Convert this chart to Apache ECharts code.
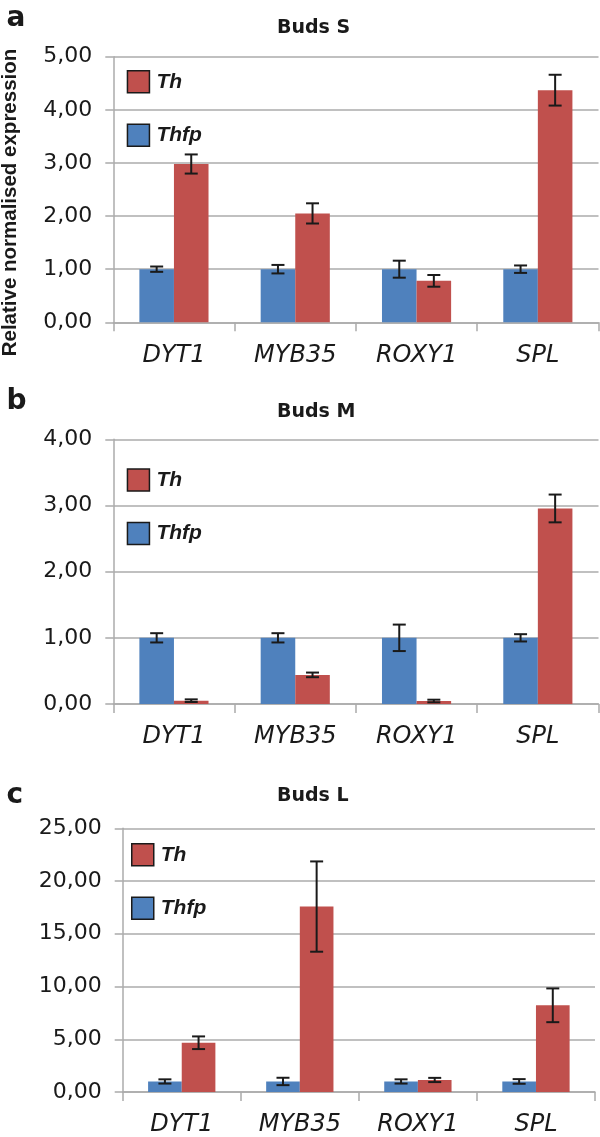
<!DOCTYPE html>
<html>
<head>
<meta charset="utf-8">
<script src="https://cdn.jsdelivr.net/npm/echarts@6/dist/echarts.min.js"></script>
<style>
html,body{margin:0;padding:0;background:#fff;}
#chart{width:600px;height:1137px;}
</style>
</head>
<body>
<div id="chart"></div>
<script>
// ---- data ----
const categories = ['DYT1', 'MYB35', 'ROXY1', 'SPL'];
const seriesNames = ['Thfp', 'Th'];
const panelTitles = ['Buds S', 'Buds M', 'Buds L'];
const panelLetters = ['a', 'b', 'c'];
const yAxisTitle = 'Relative normalised expression';

// Buds S
const thfpS = [1.00, 1.00, 1.00, 1.00];
const thfpSErr = [0.05, 0.08, 0.16, 0.07];
const thS = [2.98, 2.05, 0.78, 4.37];
const thSErr = [0.18, 0.19, 0.11, 0.29];
// Buds M
const thfpM = [1.00, 1.00, 1.00, 1.00];
const thfpMErr = [0.07, 0.07, 0.20, 0.055];
const thM = [0.05, 0.44, 0.045, 2.955];
const thMErr = [0.02, 0.035, 0.02, 0.21];
// Buds L
const thfpL = [1.00, 1.00, 1.00, 1.00];
const thfpLErr = [0.20, 0.35, 0.20, 0.22];
const thL = [4.67, 17.58, 1.14, 8.22];
const thLErr = [0.60, 4.28, 0.20, 1.60];

// y axis ranges
const yMax = [5, 4, 25];
const yStep = [1, 1, 5];

// ---- styling / layout ----
const BLUE = '#4F81BD', RED = '#C0504D';
const GRID_COLOR = '#ababab';
const TEXT = '#1a1a1a';
const grids = [
  {left: 113.3, top: 56.7, width: 485.2, height: 265.6},
  {left: 113.3, top: 439.3, width: 485.2, height: 264.7},
  {left: 122.7, top: 828.3, width: 472.3, height: 265.0}
];
const legendPos = [
  {left: 126.7, top: 70},
  {left: 126.7, top: 468.3},
  {left: 131, top: 843}
];
const titleY = [28.3, 412, 796];
const letterY = [18.6, 402, 795.3];

const panels = [
  {blue: thfpS, blueErr: thfpSErr, red: thS, redErr: thSErr},
  {blue: thfpM, blueErr: thfpMErr, red: thM, redErr: thMErr},
  {blue: thfpL, blueErr: thfpLErr, red: thL, redErr: thLErr}
];

const GAP = 0.43;
function errRender(sign) {
  return function (params, api) {
    const xi = api.value(0);
    const lo = api.coord([xi, api.value(1)]);
    const hi = api.coord([xi, api.value(2)]);
    const bw = api.size([1, 0])[0];
    const barW = bw * (1 - GAP) / 2;
    const cx = lo[0] + sign * barW / 2;
    const hw = 6.5;
    const st = {stroke: '#1a1a1a', lineWidth: 2};
    return {
      type: 'group',
      children: [
        {type: 'line', shape: {x1: cx, y1: hi[1], x2: cx, y2: lo[1]}, style: st},
        {type: 'line', shape: {x1: cx - hw, y1: hi[1], x2: cx + hw, y2: hi[1]}, style: st},
        {type: 'line', shape: {x1: cx - hw, y1: lo[1], x2: cx + hw, y2: lo[1]}, style: st}
      ]
    };
  };
}
function errData(vals, errs) {
  return vals.map((v, i) => [i, v - errs[i], v + errs[i]]);
}

const option = {
  animation: false,
  backgroundColor: '#fff',
  grid: grids,
  legend: [],
  xAxis: [],
  yAxis: [],
  series: [],
  graphic: []
};

panels.forEach((p, k) => {
  option.xAxis.push({
    type: 'category', gridIndex: k, data: categories, boundaryGap: true,
    axisLine: {show: true, lineStyle: {color: GRID_COLOR, width: 1.5}},
    axisTick: {show: true, length: 9, alignWithLabel: false, lineStyle: {color: GRID_COLOR, width: 1.5}},
    axisLabel: {margin: 21, color: TEXT, fontFamily: 'DejaVu Sans', fontSize: 24, fontStyle: 'italic'}
  });
  option.yAxis.push({
    type: 'value', gridIndex: k, min: 0, max: yMax[k], interval: yStep[k],
    axisLine: {show: true, lineStyle: {color: GRID_COLOR, width: 1.5}},
    axisTick: {show: true, length: 8, lineStyle: {color: GRID_COLOR, width: 1.5}},
    splitLine: {show: true, lineStyle: {color: GRID_COLOR, width: 1.5}},
    axisLabel: {margin: 21, color: TEXT, fontFamily: 'DejaVu Sans', fontSize: 22,
      formatter: v => v.toFixed(2).replace('.', ',')}
  });
  option.legend.push({
    orient: 'vertical', left: legendPos[k].left, top: legendPos[k].top, padding: 0,
    itemWidth: 22, itemHeight: 22, itemGap: 30, icon: 'rect',
    data: ['Th', 'Thfp'],
    itemStyle: {borderColor: '#1a1a1a', borderWidth: 1.5},
    textStyle: {color: TEXT, fontFamily: 'Liberation Sans', fontSize: 21, fontWeight: 'bold', fontStyle: 'italic', padding: [0, 0, 0, 2]},
    selectedMode: false
  });
  option.series.push({
    name: 'Thfp', type: 'bar', xAxisIndex: k, yAxisIndex: k, data: p.blue,
    itemStyle: {color: BLUE}, barGap: '0%', barCategoryGap: (GAP * 100) + '%'
  });
  option.series.push({
    name: 'Th', type: 'bar', xAxisIndex: k, yAxisIndex: k, data: p.red,
    itemStyle: {color: RED}, barGap: '0%', barCategoryGap: (GAP * 100) + '%'
  });
  option.series.push({
    name: 'errThfp' + k, type: 'custom', xAxisIndex: k, yAxisIndex: k, z: 10,
    renderItem: errRender(-1), encode: {x: 0, y: [1, 2]}, data: errData(p.blue, p.blueErr)
  });
  option.series.push({
    name: 'errTh' + k, type: 'custom', xAxisIndex: k, yAxisIndex: k, z: 10,
    renderItem: errRender(1), encode: {x: 0, y: [1, 2]}, data: errData(p.red, p.redErr)
  });
  option.graphic.push({
    type: 'text', x: 277, y: titleY[k],
    style: {text: panelTitles[k], fill: TEXT, font: 'bold 19px "DejaVu Sans"', align: 'left', verticalAlign: 'middle'}
  });
  option.graphic.push({
    type: 'text', x: 6.5, y: letterY[k],
    style: {text: panelLetters[k], fill: TEXT, font: 'bold 28px "DejaVu Sans"', align: 'left', verticalAlign: 'middle'}
  });
});
option.graphic.push({
  type: 'text', x: 10.5, y: 202.5, rotation: Math.PI / 2,
  style: {text: yAxisTitle, fill: TEXT, font: 'bold 20.5px "Liberation Sans"', align: 'center', verticalAlign: 'middle'}
});

const chart = echarts.init(document.getElementById('chart'), null, {renderer: 'canvas'});
chart.setOption(option);
</script>
</body>
</html>
